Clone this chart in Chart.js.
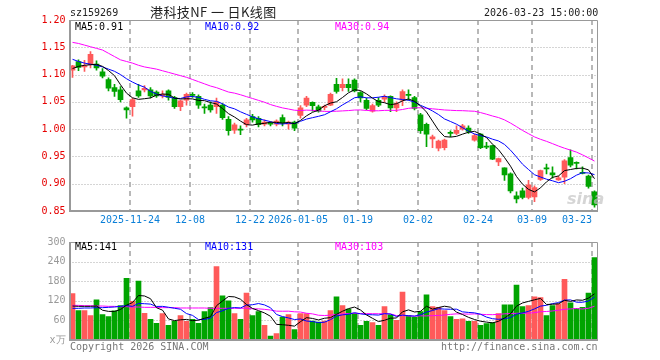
<!DOCTYPE html>
<html>
<head>
<meta charset="utf-8">
<script src="https://cdn.jsdelivr.net/npm/chart.js@4.4.1/dist/chart.umd.min.js"></script>
<style>
  body { margin: 0; background: #fff; }
  #wrap { position: relative; width: 660px; height: 360px; overflow: hidden;
          font-family: "DejaVu Sans Mono", monospace; font-size: 10px; }
  canvas { position: absolute; left: 0; }
  .t { position: absolute; white-space: pre; line-height: 12px; }
</style>
</head>
<body>
<div id="wrap">
  <canvas id="kChart" width="660" height="232" style="top:0"></canvas>
  <canvas id="volChart" width="660" height="128" style="top:232px"></canvas>

  <div class="t" style="left:70px;top:7px;color:#222">sz159269</div>
  <div class="t" style="left:150px;top:4px;color:#222;font:13px 'Noto Sans CJK SC';line-height:16px;letter-spacing:0.4px">港科技NF 一 日K线图</div>
  <div class="t" style="left:484px;top:7px;color:#222">2026-03-23 15:00:00</div>

  <div class="t" id="kMa5" style="left:75px;top:21px;color:#000"></div>
  <div class="t" id="kMa10" style="left:205px;top:21px;color:#0000ff"></div>
  <div class="t" id="kMa30" style="left:335px;top:21px;color:#ff00ff"></div>

  <div class="t" id="vMa5" style="left:75px;top:241px;color:#000"></div>
  <div class="t" id="vMa10" style="left:205px;top:241px;color:#0000ff"></div>
  <div class="t" id="vMa30" style="left:335px;top:241px;color:#ff00ff"></div>

  <div class="t" style="left:567px;top:189px;color:rgba(195,195,195,0.7);font:italic bold 16px 'DejaVu Sans'">sina</div>

  <div class="t" style="left:70px;top:341px;color:#777">Copyright 2026 SINA.COM</div>
  <div class="t" style="left:441px;top:341px;color:#777">http://finance.sina.com.cn</div>
</div>

<script>
// ----------- DATA -----------
const dates = [
  "2025-11-10","2025-11-11","2025-11-12","2025-11-13","2025-11-14","2025-11-17","2025-11-18","2025-11-19","2025-11-20","2025-11-21",
  "2025-11-24","2025-11-25","2025-11-26","2025-11-27","2025-11-28","2025-12-01","2025-12-02","2025-12-03","2025-12-04","2025-12-05",
  "2025-12-08","2025-12-09","2025-12-10","2025-12-11","2025-12-12","2025-12-15","2025-12-16","2025-12-17","2025-12-18","2025-12-19",
  "2025-12-22","2025-12-23","2025-12-24","2025-12-25","2025-12-26","2025-12-29","2025-12-30","2025-12-31","2026-01-05","2026-01-06",
  "2026-01-07","2026-01-08","2026-01-09","2026-01-12","2026-01-13","2026-01-14","2026-01-15","2026-01-16","2026-01-19","2026-01-20",
  "2026-01-21","2026-01-22","2026-01-23","2026-01-26","2026-01-27","2026-01-28","2026-01-29","2026-01-30","2026-02-02","2026-02-03",
  "2026-02-04","2026-02-05","2026-02-06","2026-02-09","2026-02-10","2026-02-11","2026-02-12","2026-02-13","2026-02-24","2026-02-25",
  "2026-02-26","2026-02-27","2026-03-02","2026-03-03","2026-03-04","2026-03-05","2026-03-06","2026-03-09","2026-03-10","2026-03-11",
  "2026-03-12","2026-03-13","2026-03-16","2026-03-17","2026-03-18","2026-03-19","2026-03-20","2026-03-23"
];
const tickDates = ["2025-11-24","2025-12-08","2025-12-22","2026-01-05","2026-01-19","2026-02-02","2026-02-24","2026-03-09","2026-03-23"];

const opens = [
  1.108,1.124,1.114,1.118,1.119,1.105,1.091,1.076,1.072,1.039,
  1.041,1.070,1.072,1.072,1.068,1.061,1.070,1.058,1.041,1.053,
  1.064,1.060,1.041,1.044,1.041,1.044,1.018,0.998,1.000,1.008,
  1.023,1.020,1.009,1.011,1.009,1.021,1.009,1.013,1.025,1.044,
  1.049,1.041,1.040,1.044,1.082,1.076,1.082,1.090,1.067,1.053,
  1.033,1.053,1.055,1.060,1.039,1.053,1.064,1.058,1.026,1.009,
  0.982,0.965,0.966,0.994,0.992,1.000,1.002,0.980,0.991,0.969,
  0.970,0.940,0.929,0.918,0.878,0.887,0.875,0.876,0.908,0.929,
  0.920,0.907,0.912,0.948,0.939,0.921,0.914,0.885
];
const highs = [
  1.117,1.127,1.126,1.142,1.125,1.111,1.094,1.082,1.078,1.041,
  1.057,1.082,1.080,1.076,1.070,1.070,1.072,1.060,1.053,1.066,
  1.067,1.063,1.046,1.050,1.057,1.047,1.023,1.011,1.006,1.020,
  1.027,1.023,1.017,1.013,1.017,1.026,1.015,1.015,1.043,1.060,
  1.050,1.044,1.044,1.066,1.093,1.092,1.092,1.092,1.069,1.057,
  1.046,1.058,1.063,1.061,1.050,1.072,1.072,1.060,1.029,1.011,
  0.989,0.980,0.982,0.997,1.006,1.009,1.006,0.991,0.992,0.976,
  0.971,0.947,0.929,0.920,0.885,0.892,0.906,0.896,0.925,0.936,
  0.931,0.914,0.944,0.962,0.940,0.931,0.916,0.887
];
const lows = [
  1.095,1.107,1.106,1.112,1.108,1.094,1.070,1.060,1.050,1.020,
  1.024,1.058,1.068,1.057,1.058,1.057,1.053,1.038,1.034,1.044,
  1.058,1.038,1.029,1.031,1.029,1.018,0.989,0.992,0.990,1.004,
  1.013,1.004,1.006,1.006,1.006,1.006,1.000,0.997,1.020,1.041,
  1.033,1.031,1.035,1.043,1.066,1.070,1.069,1.068,1.050,1.035,
  1.031,1.041,1.050,1.032,1.032,1.043,1.053,1.035,0.992,0.968,
  0.966,0.960,0.962,0.986,0.990,0.998,0.992,0.978,0.964,0.964,
  0.944,0.933,0.906,0.883,0.865,0.872,0.872,0.867,0.906,0.918,
  0.910,0.906,0.900,0.931,0.927,0.918,0.892,0.857
];
const closes = [
  1.116,1.113,1.116,1.137,1.112,1.097,1.075,1.069,1.054,1.035,
  1.054,1.061,1.075,1.061,1.061,1.064,1.058,1.041,1.052,1.064,
  1.062,1.044,1.039,1.035,1.050,1.021,0.997,1.008,0.998,1.017,
  1.017,1.008,1.013,1.009,1.015,1.011,1.013,1.002,1.039,1.057,
  1.043,1.033,1.042,1.064,1.069,1.082,1.076,1.070,1.057,1.038,
  1.043,1.044,1.060,1.039,1.047,1.069,1.062,1.038,0.997,0.991,
  0.986,0.978,0.980,0.992,0.998,1.006,0.996,0.988,0.966,0.967,
  0.945,0.946,0.916,0.887,0.872,0.875,0.898,0.893,0.924,0.927,
  0.916,0.911,0.942,0.934,0.937,0.919,0.895,0.861
];
// volume, 万
const volumes = [
  142,90,90,75,123,78,72,89,105,189,
  118,180,82,63,51,81,45,57,75,57,
  63,51,87,99,225,135,120,81,63,144,
  75,87,45,12,20,70,78,32,81,81,
  58,55,58,90,132,105,95,82,45,57,
  53,45,102,77,60,147,75,70,87,138,
  102,100,90,72,63,65,57,57,45,50,
  53,81,108,108,168,102,105,132,130,75,
  105,111,186,114,97,100,144,252
];

// MA values where the window reaches back before the first day shown
const ma5Head = [1.111,1.115,1.117,1.118];
const ma10Head = [1.128,1.124,1.121,1.119,1.117,1.114,1.110,1.106,1.100];
const ma30Head = [1.159,1.157,1.154,1.151,1.148,1.145,1.139,1.133,1.127,1.124,
  1.121,1.117,1.114,1.112,1.110,1.107,1.104,1.101,1.098,1.095,
  1.091,1.087,1.083,1.079,1.076,1.072,1.068,1.066,1.063];
const vma5Head = [104,103,103,103];
const vma10Head = [97,97,98,98,99,99,100,101,103];
const vma30Head = [106,106,105,105,104,104,103,103,102,102,
  101,101,100,100,100,99,99,99,98,98,
  98,98,98,97,97,97,97,97,97];

const upColor = "#ff5a5a";
const downColor = "#00a400";

// ----------- HELPERS -----------
function movingAvg(vals, n, head) {
  return vals.map((v, i) => {
    if (i < n - 1) return head[i];
    let s = 0;
    for (let k = i - n + 1; k <= i; k++) s += vals[k];
    return s / n;
  });
}

const ma5 = movingAvg(closes, 5, ma5Head);
const ma10 = movingAvg(closes, 10, ma10Head);
const ma30 = movingAvg(closes, 30, ma30Head);
const vma5 = movingAvg(volumes, 5, vma5Head);
const vma10 = movingAvg(volumes, 10, vma10Head);
const vma30 = movingAvg(volumes, 30, vma30Head);

const colors = closes.map((c, i) => c >= opens[i] ? upColor : downColor);
const gridIdx = tickDates.map(d => dates.indexOf(d));

document.getElementById("kMa5").textContent = "MA5:" + ma5[ma5.length - 1].toFixed(2);
document.getElementById("kMa10").textContent = "MA10:" + ma10[ma10.length - 1].toFixed(2);
document.getElementById("kMa30").textContent = "MA30:" + ma30[ma30.length - 1].toFixed(2);
document.getElementById("vMa5").textContent = "MA5:" + Math.round(vma5[vma5.length - 1]);
document.getElementById("vMa10").textContent = "MA10:" + Math.round(vma10[vma10.length - 1]);
document.getElementById("vMa30").textContent = "MA30:" + Math.round(vma30[vma30.length - 1]);

Chart.defaults.font.family = "'DejaVu Sans Mono', monospace";
Chart.defaults.font.size = 10;

// dotted / dashed grid and the panel frame
const panelGrid = {
  id: "panelGrid",
  beforeDatasetsDraw(chart) {
    const { ctx, chartArea: a, scales: { x, y } } = chart;
    ctx.save();
    ctx.strokeStyle = "#aaaaaa";
    ctx.lineWidth = 1;
    ctx.setLineDash([1, 2]);
    y.ticks.forEach(t => {
      const py = Math.round(y.getPixelForValue(t.value)) + 0.5;
      ctx.beginPath(); ctx.moveTo(a.left, py); ctx.lineTo(a.right, py); ctx.stroke();
    });
    ctx.strokeStyle = "#b8b8b8";
    ctx.lineWidth = 2;
    ctx.setLineDash([5, 4]);
    gridIdx.forEach(i => {
      const px = Math.round(x.getPixelForValue(i) - 2.5);
      ctx.beginPath(); ctx.moveTo(px, a.top); ctx.lineTo(px, a.bottom); ctx.stroke();
    });
    ctx.restore();
  },
  afterDraw(chart) {
    const { ctx, chartArea: a } = chart;
    ctx.save();
    ctx.strokeStyle = "#999999";
    ctx.lineWidth = 1;
    ctx.beginPath();
    ctx.moveTo(a.left, Math.round(a.top) + 0.5);
    ctx.lineTo(Math.round(a.right) - 0.5, Math.round(a.top) + 0.5);
    ctx.lineTo(Math.round(a.right) - 0.5, a.bottom);
    ctx.stroke();
    ctx.lineWidth = 2;
    ctx.beginPath();
    ctx.moveTo(Math.round(a.left), a.top);
    ctx.lineTo(Math.round(a.left), Math.round(a.bottom));
    ctx.lineTo(Math.round(a.right), Math.round(a.bottom));
    ctx.stroke();
    ctx.restore();
  }
};

function lineSet(data, color) {
  return { type: "line", data, borderColor: color, borderWidth: 1, pointRadius: 0, tension: 0, order: 0 };
}

// ----------- K LINE CHART -----------
new Chart(document.getElementById("kChart"), {
  type: "bar",
  data: {
    labels: dates,
    datasets: [
      { data: lows.map((l, i) => [l, highs[i]]), backgroundColor: colors, barThickness: 1, grouped: false, order: 2 },
      { data: opens.map((o, i) => [o, closes[i]]), backgroundColor: colors, barThickness: 5, minBarLength: 1, grouped: false, order: 1 },
      lineSet(ma5, "#000000"),
      lineSet(ma10, "#0000ff"),
      lineSet(ma30, "#ff00ff")
    ]
  },
  options: {
    responsive: false,
    animation: false,
    events: [],
    layout: { padding: { top: 20, right: 62.5, left: 0, bottom: 0 } },
    plugins: { legend: { display: false }, tooltip: { enabled: false } },
    scales: {
      x: {
        grid: { display: false, drawTicks: false },
        border: { display: false },
        afterFit: s => { s.height = 21; },
        ticks: {
          autoSkip: false, maxRotation: 0, minRotation: 0, padding: 3, labelOffset: -2.5,
          color: "#0a7fd8",
          callback: (v) => {
            const k = tickDates.indexOf(dates[v]);
            if (k < 0) return "";
            const d = dates[v];
            const full = k === 0 || d.slice(0, 4) !== tickDates[k - 1].slice(0, 4);
            let txt = full ? d : d.slice(5);
            if (k === tickDates.length - 1) txt = txt.padEnd(txt.length * 2, " ");
            return txt;
          }
        }
      },
      y: {
        min: 0.85, max: 1.20,
        grid: { display: false, drawTicks: false },
        border: { display: false },
        afterFit: s => { s.width = 69.5; },
        ticks: { stepSize: 0.05, padding: 4, color: "#e60000", callback: v => v.toFixed(2) }
      }
    }
  },
  plugins: [panelGrid]
});

// ----------- VOLUME CHART -----------
new Chart(document.getElementById("volChart"), {
  type: "bar",
  data: {
    labels: dates,
    datasets: [
      { data: volumes, backgroundColor: colors, barThickness: 5, grouped: false, order: 1 },
      lineSet(vma5, "#000000"),
      lineSet(vma10, "#0000ff"),
      lineSet(vma30, "#ff00ff")
    ]
  },
  options: {
    responsive: false,
    animation: false,
    events: [],
    layout: { padding: { top: 8, right: 62.5, left: 0, bottom: 20 } },
    plugins: { legend: { display: false }, tooltip: { enabled: false } },
    scales: {
      x: { display: false },
      y: {
        min: 0, max: 300,
        grid: { display: false, drawTicks: false },
        border: { display: false },
        afterFit: s => { s.width = 69.5; },
        ticks: { stepSize: 60, padding: 4, color: "#999999", callback: v => v === 0 ? "x万" : v }
      }
    }
  },
  plugins: [panelGrid]
});
</script>
</body>
</html>
